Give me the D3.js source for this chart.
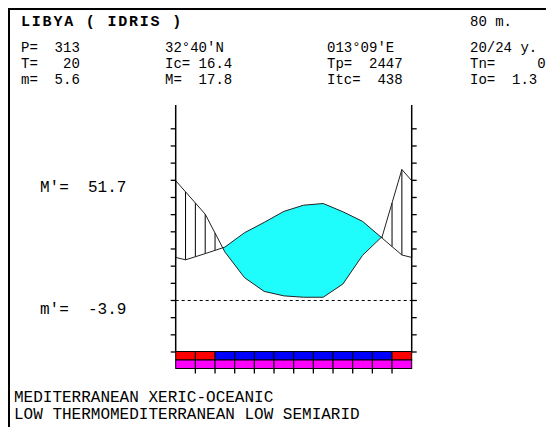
<!DOCTYPE html>
<html>
<head>
<meta charset="utf-8">
<script src="https://cdn.jsdelivr.net/npm/d3@7"></script>
<style>
    html, body { margin: 0; padding: 0; background: #fff; }
    svg text { font-family: "Liberation Mono", "DejaVu Sans Mono", monospace; fill: #000; white-space: pre; }
</style>
</head>
<body>
<svg id="chart" width="546" height="427"></svg>
<script>
// Station header
const stationTitle = 'LIBYA ( IDRIS )';
const stationAltitude = '80 m.';
const headerRows = [
    ['P=  313', '32°40\'N', '013°09\'E', '20/24 y.'],
    ['T=   20', 'Ic= 16.4', 'Tp=  2447', 'Tn=     0'],
    ['m=  5.6', 'M=  17.8', 'Itc=  438', 'Io=  1.3']
];
const sideLabels = ['M\'=  51.7', 'm\'=  -3.9'];
const footerLines = ['MEDITERRANEAN XERIC-OCEANIC', 'LOW THERMOMEDITERRANEAN LOW SEMIARID'];

// Monthly values (Jan..Dec)
const months = ['J', 'F', 'M', 'A', 'M', 'J', 'J', 'A', 'S', 'O', 'N', 'D'];
const temperature = [11.7, 13.5, 15.4, 19.6, 22.6, 25.8, 27.6, 28.1, 25.7, 22.9, 18.0, 13.1];
const precipitation = [63, 50, 28, 13, 5, 2.4, 1.6, 1.6, 9.3, 26, 37, 76];

// Band codes under the plot
const bandTop = ['a', 'a', 'b', 'b', 'b', 'b', 'b', 'b', 'b', 'b', 'b', 'a'];
const bandBottom = ['c', 'c', 'c', 'c', 'c', 'c', 'c', 'c', 'c', 'c', 'c', 'c'];

// Temperature ticks (°C), precipitation uses 2 mm per °C
const tempTicks = [-15, -10, -5, 0, 5, 10, 15, 20, 25, 30, 35, 40, 45, 50];

function ClimateDiagram(element) {
    this.element = element;
    this.svg = null;

    this.config = {
        plotLeft: 175.7,
        plotRight: 411.7,
        plotBottom: 351.5,
        plotTop: 105,
        tempMin: -15,
        tempMax: 50,
        tempMaxY: 128.3,
        tickSize: 5,
        bandHeight: 8.5,
        fillColor: '#1ffcfc',
        bandColors: { a: '#ff0000', b: '#0000ff', c: '#ff00ff' },
        headerSize: 14,
        labelSize: 16
    };

    this.init = function () {
        this.element.innerHTML = '';
        this.setup();
    };

    this.setup = function () {
        let me = this;
        let c = me.config;

        me.svg = d3.select(me.element);

        let x = d3.scaleLinear().domain([0, 12]).range([c.plotLeft, c.plotRight]);
        let y = d3.scaleLinear().domain([c.tempMin, c.tempMax]).range([c.plotBottom, c.tempMaxY]);

        // frame
        me.svg.append('path')
            .attr('d', 'M9,427 L9,9 L546,9')
            .attr('fill', 'none')
            .attr('stroke', '#000')
            .attr('stroke-width', 2);

        // header texts
        me.svg.append('text')
            .attr('x', 21).attr('y', 26)
            .attr('font-size', 15)
            .attr('font-weight', 'bold')
            .attr('letter-spacing', 1.8)
            .text(stationTitle);
        me.svg.append('text')
            .attr('x', 470).attr('y', 26)
            .attr('font-size', c.headerSize)
            .text(stationAltitude);

        let colX = [21, 165, 327, 470];
        me.svg.append('g').selectAll('g')
            .data(headerRows)
            .enter().append('g')
            .each(function (row, i) {
                d3.select(this).selectAll('text')
                    .data(row)
                    .enter().append('text')
                    .attr('x', (d, j) => colX[j])
                    .attr('y', 52 + i * 16)
                    .attr('font-size', c.headerSize)
                    .text(d => d);
            });

        // series with the edge value shared by Dec and Jan
        let edgeT = (temperature[0] + temperature[11]) / 2;
        let edgeP = (precipitation[0] + precipitation[11]) / 2;
        let pts = [{ m: 0, t: edgeT, p: edgeP }];
        temperature.forEach((t, i) => pts.push({ m: i + 0.5, t: t, p: precipitation[i] }));
        pts.push({ m: 12, t: edgeT, p: edgeP });

        // insert the crossings of P and 2T
        let dense = [pts[0]];
        for (let i = 1; i < pts.length; i++) {
            let a = pts[i - 1], b = pts[i];
            let da = a.p - 2 * a.t, db = b.p - 2 * b.t;
            if (da * db < 0) {
                let f = da / (da - db);
                dense.push({ m: a.m + f * (b.m - a.m), t: a.t + f * (b.t - a.t), p: a.p + f * (b.p - a.p) });
            }
            dense.push(b);
        }

        let yT = d => y(d.t);
        let yP = d => y(d.p / 2);

        // dry period fill
        let dryArea = d3.area()
            .x(d => x(d.m))
            .y0(d => Math.max(yT(d), yP(d)))
            .y1(d => yT(d));
        me.svg.append('path')
            .datum(dense)
            .attr('fill', c.fillColor)
            .attr('d', dryArea);

        // humid period hatching
        function interp(m) {
            for (let i = 1; i < dense.length; i++) {
                let a = dense[i - 1], b = dense[i];
                if (m <= b.m) {
                    let f = (m - a.m) / (b.m - a.m);
                    return { t: a.t + f * (b.t - a.t), p: a.p + f * (b.p - a.p) };
                }
            }
            return dense[dense.length - 1];
        }
        let hatch = d3.range(0, 24.5).map(k => {
            let v = interp(k / 2);
            return { m: k / 2, t: v.t, p: v.p };
        }).filter(d => d.p > 2 * d.t);
        me.svg.append('g').selectAll('line')
            .data(hatch)
            .enter().append('line')
            .attr('x1', d => x(d.m)).attr('x2', d => x(d.m))
            .attr('y1', d => yT(d)).attr('y2', d => yP(d))
            .attr('stroke', '#000')
            .attr('stroke-width', 1);

        // curves
        me.svg.append('path')
            .datum(pts)
            .attr('fill', 'none')
            .attr('stroke', '#222')
            .attr('stroke-width', 1)
            .attr('d', d3.line().x(d => x(d.m)).y(yT));
        me.svg.append('path')
            .datum(pts)
            .attr('fill', 'none')
            .attr('stroke', '#222')
            .attr('stroke-width', 1)
            .attr('d', d3.line().x(d => x(d.m)).y(yP));

        // zero line
        me.svg.append('line')
            .attr('x1', c.plotLeft).attr('x2', c.plotRight + c.tickSize)
            .attr('y1', Math.round(y(0)) + 0.5).attr('y2', Math.round(y(0)) + 0.5)
            .attr('stroke', '#000')
            .attr('stroke-dasharray', '3,3');

        // axes
        let leftAxis = d3.axisLeft(y).tickValues(tempTicks).tickSize(c.tickSize).tickFormat('');
        let rightAxis = d3.axisRight(y).tickValues(tempTicks).tickSize(c.tickSize).tickFormat('');
        [[leftAxis, c.plotLeft], [rightAxis, c.plotRight]].forEach(a => {
            let g = me.svg.append('g')
                .attr('transform', 'translate(' + a[1] + ',0)')
                .call(a[0]);
            g.select('.domain').remove();
            g.selectAll('line').attr('stroke', '#000').attr('stroke-width', 1.3);
            g.append('line')
                .attr('y1', c.plotTop).attr('y2', c.plotBottom)
                .attr('stroke', '#000').attr('stroke-width', 1.5);
        });

        // month bands
        let bands = me.svg.append('g');
        [bandTop, bandBottom].forEach((row, r) => {
            bands.selectAll('rect.r' + r)
                .data(row)
                .enter().append('rect')
                .attr('class', 'r' + r)
                .attr('x', (d, i) => x(i))
                .attr('y', c.plotBottom + r * c.bandHeight)
                .attr('width', x(1) - x(0))
                .attr('height', c.bandHeight)
                .attr('fill', d => c.bandColors[d])
                .attr('stroke', '#000')
                .attr('stroke-width', 1);
        });
        let bandEnd = c.plotBottom + 2 * c.bandHeight;
        bands.selectAll('line')
            .data(months.slice(1))
            .enter().append('line')
            .attr('x1', (d, i) => x(i + 1)).attr('x2', (d, i) => x(i + 1))
            .attr('y1', bandEnd).attr('y2', bandEnd + c.tickSize)
            .attr('stroke', '#000')
            .attr('stroke-width', 1.3);

        // side labels
        me.svg.selectAll('text.side')
            .data(sideLabels)
            .enter().append('text')
            .attr('class', 'side')
            .attr('x', 40)
            .attr('y', (d, i) => i === 0 ? 192 : 314)
            .attr('font-size', c.labelSize)
            .text(d => d);

        // footer
        me.svg.selectAll('text.foot')
            .data(footerLines)
            .enter().append('text')
            .attr('class', 'foot')
            .attr('x', 14)
            .attr('y', (d, i) => 402 + i * 17)
            .attr('font-size', c.labelSize)
            .text(d => d);
    };

    this.init();
}

new ClimateDiagram(document.getElementById('chart'));
</script>
</body>
</html>
